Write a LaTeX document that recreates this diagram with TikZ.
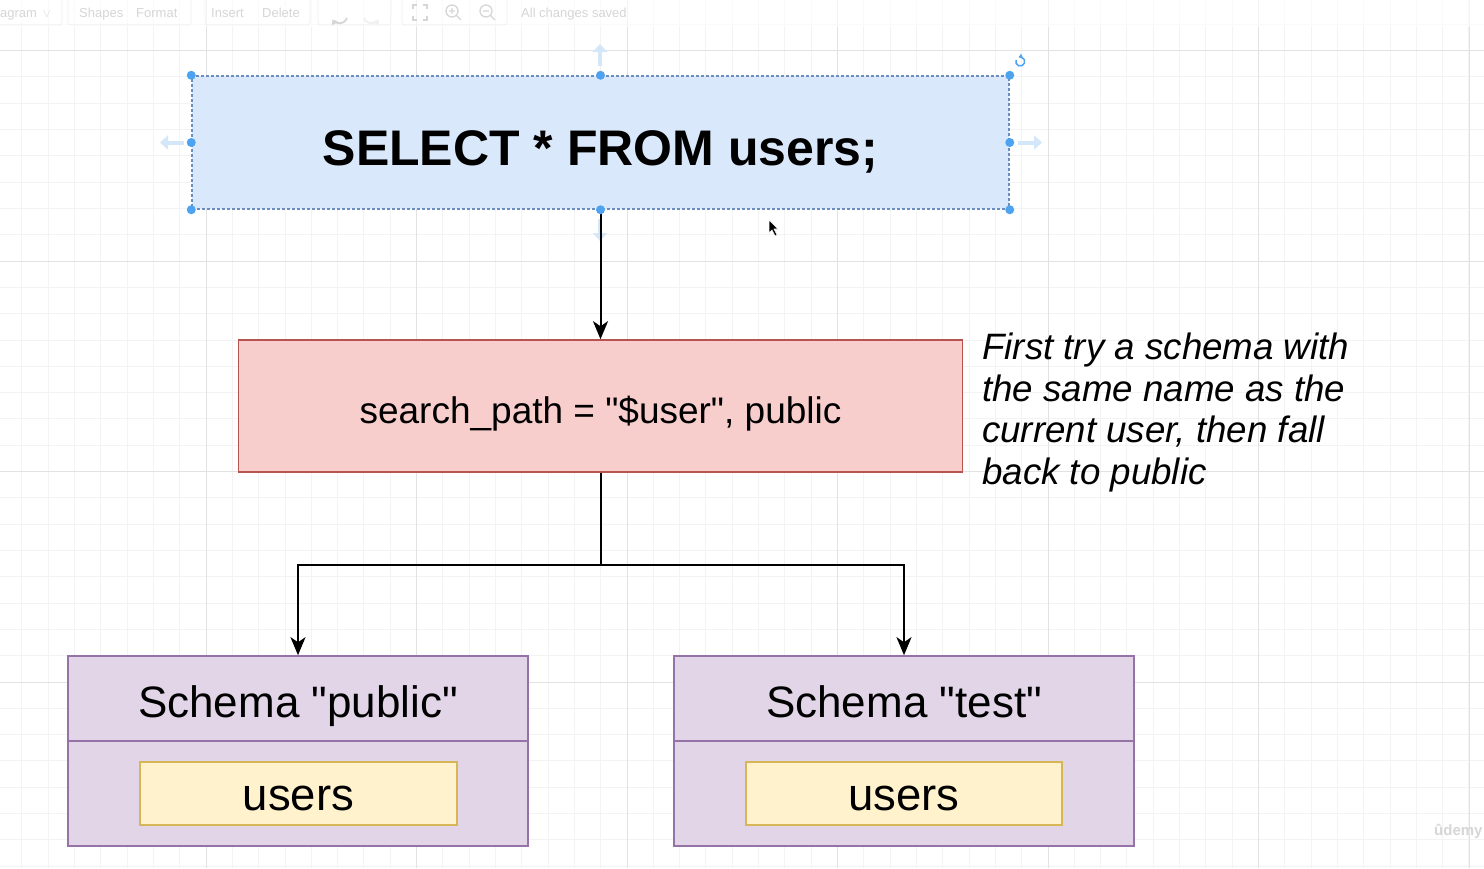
\documentclass[tikz,border=0pt]{standalone}
\usepackage{fontspec}
\setmainfont{Liberation Sans}
\usetikzlibrary{arrows.meta,calc}
\definecolor{blueF}{HTML}{DAE8FC}
\definecolor{blueS}{HTML}{6C8EBF}
\definecolor{redF}{HTML}{F8CECC}
\definecolor{redS}{HTML}{B85450}
\definecolor{purF}{HTML}{E1D5E7}
\definecolor{purS}{HTML}{9673A6}
\definecolor{yelF}{HTML}{FFF2CC}
\definecolor{yelS}{HTML}{D6B656}
\definecolor{handle}{HTML}{4DA3F0}
\definecolor{ghost}{HTML}{D3E7F8}
\definecolor{gridminor}{HTML}{F3F3F3}
\definecolor{gridmajor}{HTML}{E2E2E2}
\definecolor{uigray}{HTML}{D6D6D6}
\definecolor{uibox}{HTML}{F0F0F0}
\newcommand{\dq}{\XeTeXglyph\XeTeXcharglyph"22\relax}
\begin{document}
\begin{tikzpicture}[x=1pt,y=-1pt,
  box/.style={rectangle, inner sep=0pt, line width=1.6pt},
  conn/.style={line width=2pt, -{Stealth[length=18pt,width=15pt,inset=5pt]}},
  plain/.style={line width=2pt},
  dot/.style={fill=handle},
  ghostarrow/.style={ghost, line width=4pt, -{Triangle[length=8pt,width=14pt]}},
  uitext/.style={text=uigray, font=\fontsize{13}{15}\selectfont, inner sep=0pt, anchor=base west},
  uigroup/.style={draw=uibox, line width=0.8pt, rounded corners=3pt},
  lbl/.style={inner sep=0pt, anchor=base}
]
\useasboundingbox (0,0) rectangle (1484,868);
\fill[white] (0,0) rectangle (1484,868);
% grid
\foreach \i in {0,...,56} { \draw[gridminor, line width=0.8pt] ({21.8+26.31*\i},0) -- ++(0,868); }
\foreach \i in {0,...,32} { \draw[gridminor, line width=0.8pt] (0,{24.2+26.31*\i}) -- ++(1484,0); }
\foreach \i in {0,...,6} { \draw[gridmajor, line width=0.9pt] ({206+210.5*\i},0) -- ++(0,868); }
\foreach \i in {0,...,3} { \draw[gridmajor, line width=0.9pt] (0,{50.5+210.5*\i}) -- ++(1484,0); }
% faded toolbar
\fill[white, opacity=0.6] (0,0) rectangle (1484,27);
\draw[uigroup] (-5,-3) rectangle (62,25);
\draw[uigroup] (68,-3) rectangle (191,25);
\draw[uigroup] (205,-3) rectangle (310,25);
\draw[uigroup] (318,-3) rectangle (391,25);
\draw[uigroup] (402,-3) rectangle (507,25);
\node[uitext] (tb1) at (0,17) {agram \,$\vee$};
\node[uitext] (tb2) at (79,17) {Shapes};
\node[uitext] (tb3) at (136,17) {Format};
\node[uitext] (tb4) at (211,17) {Insert};
\node[uitext] (tb5) at (262,17) {Delete};
\node[uitext] (tb6) at (521,17) {All changes saved};
\draw[uigray, line width=1.8pt, -{Triangle[length=5pt,width=7pt]}] (347,18) arc (20:150:8);
\draw[uibox, line width=1.8pt, -{Triangle[length=5pt,width=7pt]}] (364,18) arc (160:30:8);
\draw[uigray, line width=1.2pt] (413,9) -- (413,5) -- (417,5) (423,5) -- (427,5) -- (427,9) (427,16) -- (427,20) -- (423,20) (417,20) -- (413,20) -- (413,16);
\draw[uigray, line width=1.3pt] (452,11) circle (6pt) (456.5,15.5) -- (461,20) (449,11) -- (455,11) (452,8) -- (452,14);
\draw[uigray, line width=1.3pt] (486,11) circle (6pt) (490.5,15.5) -- (495,20) (483,11) -- (489,11);
% main nodes
\node[box, fill=blueF, draw=blueS, dash pattern=on 3pt off 2pt, line width=1.5pt,
      minimum width=817pt, minimum height=133pt] (q) at (600.5,142.5) {};
\node[lbl, font=\fontsize{50}{60}\selectfont\bfseries] (qt) at (600.5,165) {SELECT * FROM users;};
\node[box, fill=redF, draw=redS, minimum width=724pt, minimum height=132pt] (sp) at (600.5,406) {};
\node[lbl, font=\fontsize{37}{44}\selectfont] (spt) at (600.5,423) {search\_path = \dq\$user\dq, public};
\node[inner sep=0pt, anchor=north west, align=left, font=\fontsize{36.7}{41.5}\selectfont\itshape] (note) at (982,333)
  {First try a schema with\\the same name as the\\current user, then fall\\back to public};
% schemas
\node[box, fill=purF, draw=purS, minimum width=460pt, minimum height=190pt] (s1) at (298,751) {};
\draw[purS, line width=1.6pt] (s1.west |- 0,741) -- (s1.east |- 0,741);
\node[lbl, font=\fontsize{44}{52}\selectfont] (s1t) at (298,717) {Schema \dq public\dq};
\node[box, fill=yelF, draw=yelS, minimum width=317pt, minimum height=63pt] (u1) at (298.5,793.5) {};
\node[lbl, font=\fontsize{45.5}{54}\selectfont] (u1t) at (298.5,810) {users};
\node[box, fill=purF, draw=purS, minimum width=460pt, minimum height=190pt] (s2) at (904,751) {};
\draw[purS, line width=1.6pt] (s2.west |- 0,741) -- (s2.east |- 0,741);
\node[lbl, font=\fontsize{44}{52}\selectfont] (s2t) at (904,717) {Schema \dq test\dq};
\node[box, fill=yelF, draw=yelS, minimum width=316pt, minimum height=63pt] (u2) at (904,793.5) {};
\node[lbl, font=\fontsize{45.5}{54}\selectfont] (u2t) at (904,810) {users};
% ghost arrows of selection
\draw[ghostarrow] (600,66) -- (600,44);
\draw[ghostarrow] (184,142.5) -- (160,142.5);
\draw[ghostarrow] (1018,142.5) -- (1042,142.5);
\draw[ghostarrow] (600,219) -- (600,241);
% connectors
\draw[conn] (q.south) -- (sp.north);
\coordinate (hub) at ($(sp.south)+(0,92)$);
\draw[plain] (sp.south) -- (hub);
\draw[conn] (hub) -| (s1.north);
\draw[conn] (hub) -| (s2.north);
% selection handles
\foreach \a in {north west, north, north east, west, east, south west, south, south east}
  { \fill[dot] (q.\a) circle (4.5pt); }
\draw[handle, line width=1.5pt, -{Triangle[length=3.5pt,width=5pt]}] (1016,60) arc (200:-110:4.5);
% cursor
\filldraw[fill=black, draw=white, line width=0.6pt] (769,220) -- (769,233) -- (772,230) -- (775,236) -- (777,235) -- (774,229) -- (778,229) -- cycle;
% watermark
\node[inner sep=0pt, anchor=base west, text=uigray, font=\fontsize{15}{18}\selectfont\bfseries] (wm) at (1434,835) {ûdemy};
\end{tikzpicture}
\end{document}
